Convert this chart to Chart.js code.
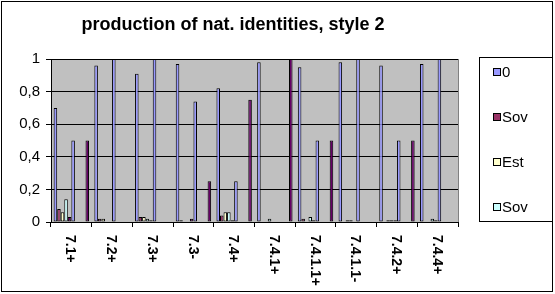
<!DOCTYPE html>
<html><head><meta charset="utf-8">
<script src="https://cdn.jsdelivr.net/npm/chart.js@4/dist/chart.umd.min.js"></script>
<style>html,body{margin:0;padding:0;background:#fff}#c{display:block}</style>
</head><body>
<canvas id="c" width="555" height="294"></canvas>
<script>
const categories = ['7.1+','7.2+','7.3+','7.3-','7.4+','7.4.1+','7.4.1.1+','7.4.1.1-','7.4.2+','7.4.4+'];
const seriesNames = ['0','Sov','Est','Sov','0','0','Sov','Est','Sov','0'];
const legendCount = 4;
const s0 = [0.70,0.96,0.91,0.97,0.82,0.98,0.95,0.98,0.96,0.97];
const s1 = [0.08,0.02,0.03,0.01,0.04,0,0.02,0,0,0];
const s2 = [0.06,0.02,0.03,0,0.06,0,0,0.01,0.01,0];
const s3 = [0.14,0,0.02,0,0.06,0.02,0.03,0.01,0.01,0.02];
const s4 = [0.03,0,0.01,0.02,0.01,0,0.01,0,0.01,0.01];
const s5 = [0.50,1.00,1.00,0.74,0.25,0,0.50,1.00,0.50,1.00];
const s6 = [0,0,0,0,0,0,0,0,0,0];
const s7 = [0,0,0,0,0,0,0,0,0,0];
const s8 = [0,0,0,0,0,0,0,0,0,0];
const s9 = [0.50,0,0,0.25,0.75,1.00,0.50,0,0.50,0];
const yTicks = [0,0.2,0.4,0.6,0.8,1];
const title = 'production of nat. identities, style 2';

const seriesValues = [s0,s1,s2,s3,s4,s5,s6,s7,s8,s9];
const palette = ['#9999FF','#993366','#FFFFCC','#CCFFFF','#660066','#9999FF','#993366','#FFFFCC','#CCFFFF','#660066'];
const FONT = '"Liberation Sans", Arial, sans-serif';

const decor = {
  id: 'decor',
  beforeDraw(chart) {
    const ctx = chart.ctx, a = chart.chartArea;
    ctx.save();
    ctx.fillStyle = '#fff';
    ctx.fillRect(0,0,chart.width,chart.height);
    ctx.strokeStyle = '#000'; ctx.lineWidth = 1;
    ctx.strokeRect(1.5,1.5,551,290);
    ctx.fillStyle = '#C0C0C0';
    ctx.fillRect(a.left, a.top, a.right-a.left, a.bottom-a.top);
    ctx.strokeStyle = '#808080';
    ctx.beginPath(); ctx.moveTo(Math.round(a.right)+0.5, a.top); ctx.lineTo(Math.round(a.right)+0.5, a.bottom); ctx.stroke();
    ctx.restore();
  },
  afterDraw(chart) {
    const ctx = chart.ctx, xs = chart.scales.x;
    ctx.save();
    ctx.fillStyle = '#000';
    ctx.font = 'bold 18px ' + FONT;
    ctx.textAlign = 'center'; ctx.textBaseline = 'middle';
    ctx.fillText(title, 233, 25);
    // x labels rotated clockwise
    ctx.font = 'bold 14px ' + FONT;
    ctx.textAlign = 'left';
    categories.forEach((c,i) => {
      const x = xs.getPixelForValue(i) - 1;
      ctx.save();
      ctx.translate(x, 235);
      ctx.rotate(Math.PI/2);
      ctx.fillText(c, 0, 0);
      ctx.restore();
    });
    // legend
    ctx.fillStyle = '#fff';
    ctx.fillRect(479.5,57.5,73,164);
    ctx.strokeStyle = '#000';
    ctx.strokeRect(479.5,57.5,73,164);
    ctx.font = '15px ' + FONT;
    ctx.textBaseline = 'middle';
    for (let i = 0; i < legendCount; i++) {
      const cy = 72 + 45*i;
      ctx.fillStyle = palette[i];
      ctx.fillRect(493.5, cy-3.5, 7, 7);
      ctx.strokeRect(493.5, cy-3.5, 7, 7);
      ctx.fillStyle = '#000';
      ctx.fillText(seriesNames[i], 502, cy+1);
    }
    ctx.restore();
  }
};

new Chart(document.getElementById('c'), {
  type: 'bar',
  data: {
    labels: categories,
    datasets: seriesValues.map((v,i) => ({
      label: seriesNames[i],
      data: v,
      backgroundColor: palette[i],
      borderColor: '#000',
      borderWidth: 1,
      borderSkipped: false,
      categoryPercentage: 10/11.5,
      barPercentage: 1
    }))
  },
  options: {
    responsive: false,
    animation: false,
    devicePixelRatio: 1,
    layout: { padding: { left: 0, top: 59, right: 97, bottom: 0 } },
    plugins: { legend: { display: false }, title: { display: false }, tooltip: { enabled: false } },
    scales: {
      x: {
        grid: { display: true, drawOnChartArea: false, drawTicks: true, tickLength: 5, color: '#000', offset: true },
        border: { color: '#000', width: 1 },
        ticks: { display: false },
        afterFit(s) { s.height = 72; }
      },
      y: {
        min: 0, max: 1,
        afterBuildTicks(s) { s.ticks = yTicks.map(v => ({ value: v })); },
        ticks: {
          color: '#000', padding: 6,
          font: { family: FONT, size: 15 },
          callback: v => String(Math.round(v*10)/10).replace('.', ',')
        },
        grid: { color: '#000', lineWidth: 1, tickLength: 5, drawTicks: true },
        border: { color: '#000', width: 1 },
        afterFit(s) { s.width = 51; }
      }
    }
  },
  plugins: [decor]
});
</script>
</body></html>
